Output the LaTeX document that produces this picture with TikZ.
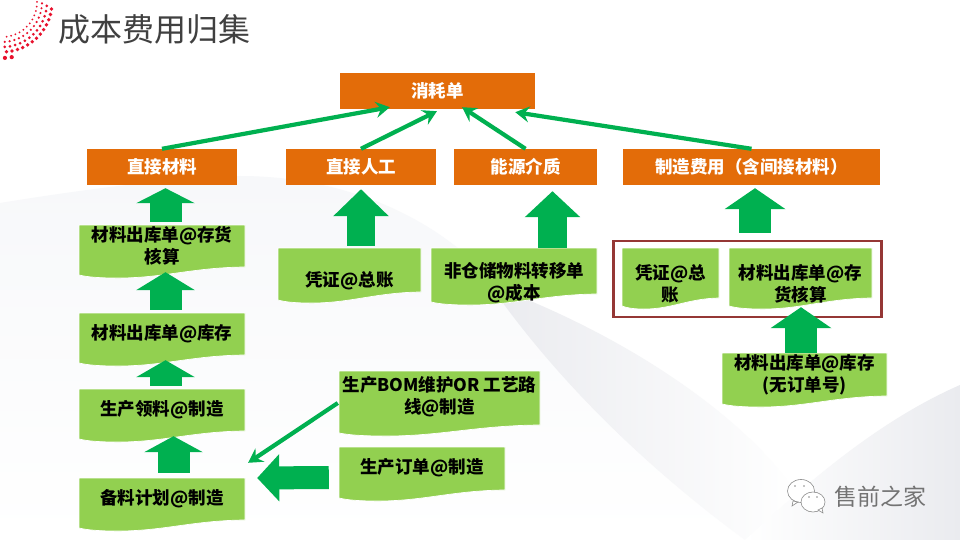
\documentclass[tikz,border=0pt]{standalone}
\usepackage{fontspec}
\setmainfont{Noto Sans CJK SC}
\newfontfamily\cjk{Noto Sans CJK SC}
\usetikzlibrary{arrows.meta,calc}
\definecolor{orgfill}{HTML}{E36C09}
\definecolor{docfill}{HTML}{92D050}
\definecolor{arrgreen}{HTML}{00B050}
\definecolor{redbox}{HTML}{953735}
\definecolor{dotred}{HTML}{E8112D}
\definecolor{titlegrey}{HTML}{404040}
\definecolor{bgA}{HTML}{F7F8FA}
\definecolor{bgB}{HTML}{EAEBEF}
\tikzset{
  orgbox/.style={fill=orgfill,text=white,inner sep=0pt,font=\cjk\bfseries\fontsize{17.5}{22}\selectfont},
  doctext/.style={inner sep=0pt,align=center,text=black,font=\cjk\bfseries\fontsize{17.5}{22}\selectfont},
  docshape/.style={fill=docfill,draw=white,line width=.7pt},
  thinarrow/.style={draw=arrgreen,line width=4.2pt,-{Stealth[width=16pt,length=14pt,inset=5pt]}},
  blockarrow/.style n args={3}{draw=arrgreen,line width=#1pt,-{Triangle[width=#2pt,length=#3pt]}},
}
% name, x1, y1, x2, y2 (lowest point of the wave), text centre y, text
\newcommand{\docn}[7]{%
  \pgfmathsetmacro{\dw}{#4-#2}%
  \pgfmathsetmacro{\dcx}{(#2+#4)/2}%
  \pgfmathsetmacro{\dh}{2*(#6-#3)}%
  \path[docshape] (#2,#3) -- (#4,#3) -- (#4,#5-11)
    .. controls (#2+.68*\dw,#5-10.5) and (#2+.5*\dw,#5+.5) .. (#2+.22*\dw,#5)
    .. controls (#2+.12*\dw,#5) and (#2+.05*\dw,#5-1) .. (#2,#5-3) -- cycle;
  \node[doctext,minimum width=\dw pt,minimum height=\dh pt] (#1) at (\dcx,#6) {#7};
}
\begin{document}
\begin{tikzpicture}[x=1pt,y=-1pt]
\useasboundingbox (0,0) rectangle (960,540);
\fill[white] (0,0) rectangle (960,540);
% background swoosh
\shade[top color=bgA,bottom color=white]
  (0,203) .. controls (80,190) and (170,178) .. (240,176)
  .. controls (340,176) and (440,215) .. (500,290)
  .. controls (560,380) and (650,470) .. (745,540) -- (0,540) -- cycle;
\shade[shading angle=45,left color=bgB,right color=white]
  (490,285) .. controls (560,385) and (650,470) .. (745,540)
  -- (800,500) .. controls (760,430) and (640,340) .. (490,285) -- cycle;
\shade[shading angle=-45,left color=white,right color=bgB]
  (745,540) .. controls (810,480) and (880,420) .. (960,385) -- (960,540) -- cycle;
% logo dots
\foreach \r/\s/\a/\b/\st in {35/1/0/90/7.5, 40/1.2/2/90/7, 45/1.5/5/90/6.8, 50/1.9/8/86/6.4, 56/2.1/80/90/7}{
  \foreach \i in {0,...,14}{
    \pgfmathsetmacro{\t}{\a+\i*\st}
    \ifdim \t pt<\b pt
      \fill[dotred] (2,2) ++(\t:\r) circle[radius=\s pt];
    \fi
  }
}
% title
\node[anchor=west,inner sep=0pt,text=titlegrey,font=\cjk\fontsize{32}{38}\selectfont] (title) at (58,29) {成本费用归集};
% orange boxes
\node[orgbox,minimum width=195pt,minimum height=36pt] (xhd) at (437.5,91) {消耗单};
\node[orgbox,minimum width=150pt,minimum height=36pt] (zjcl) at (162,167) {直接材料};
\node[orgbox,minimum width=150pt,minimum height=36pt] (zjrg) at (361,167) {直接人工};
\node[orgbox,minimum width=143pt,minimum height=36pt] (nyjz) at (525.5,167) {能源介质};
\node[orgbox,minimum width=257pt,minimum height=36pt] (zzfy) at (751.5,167) {制造费用（含间接材料）};
% red frame
\node[draw=redbox,line width=2.6pt,minimum width=268pt,minimum height=76pt,inner sep=0pt] (frame) at (747.5,279) {};
% documents
\docn{cunhuo}{79}{225}{245}{278}{246}{材料出库单@存货\\核算}
\docn{kucun}{79}{313}{245}{366}{334}{材料出库单@库存}
\docn{lingliao}{79}{389}{245}{442}{410}{生产领料@制造}
\docn{beiliao}{79}{478}{245}{531}{499}{备料计划@制造}
\docn{bom}{339}{371}{540}{436}{397}{生产BOM维护OR 工艺路\\线@制造}
\docn{dingdan}{339}{447}{505}{501}{468}{生产订单@制造}
\docn{pingzheng}{278}{248}{421}{303}{281}{凭证@总账}
\docn{feicang}{431}{248}{597}{305}{283}{非仓储物料转移单\\@成本}
\docn{pingzhengb}{622}{248}{719}{309}{284}{凭证@总\\账}
\docn{cunhuob}{729}{248}{872}{309}{284}{材料出库单@存\\货核算}
\docn{kucunb}{722}{353}{887}{407}{375}{材料出库单@库存\\(无订单号)}
% thin arrows
\draw[thinarrow] (zjcl.north) -- ($(xhd.south west)!.256!(xhd.south east)+(0,-2)$);
\draw[thinarrow] (zjrg.north) -- ($(xhd.south west)!.497!(xhd.south east)+(0,2)$);
\draw[thinarrow] (nyjz.north) -- ($(xhd.south west)!.626!(xhd.south east)+(0,-2)$);
\draw[thinarrow] (zzfy.north) -- ($(xhd.south west)!.898!(xhd.south east)+(0,3)$);
\draw[thinarrow] ($(bom.west)+(-1,6)$) -- ($(beiliao.north east)+(3,-15)$);
% block arrows
\draw[blockarrow={32}{58}{15}] ($(cunhuo.north)+(3.5,-3)$) -- ($(zjcl.south)+(3.5,3)$);
\draw[blockarrow={32}{58}{18}] ($(kucun.north)+(3.5,-3)$) -- ($(cunhuo.south)+(3.5,5)$);
\draw[blockarrow={32}{58}{17}] ($(lingliao.north)+(3.5,-3)$) -- ($(kucun.south)+(3.5,5)$);
\draw[blockarrow={32}{58}{16}] ($(beiliao.north)+(11.5,-5)$) -- ($(lingliao.south)+(11.5,5)$);
\draw[blockarrow={28}{54}{27}] ($(pingzheng.north)+(11.5,-2)$) -- ($(zjrg.south)+(0,4)$);
\draw[blockarrow={29}{54}{26}] ($(feicang.north)+(38.5,0)$) -- ($(nyjz.south)+(27,6)$);
\draw[blockarrow={32}{60}{21}] ($(frame.north)+(7.5,-7)$) -- ($(zzfy.south)+(3.5,3)$);
\draw[blockarrow={32}{60}{21}] ($(kucunb.north)+(-3.5,0)$) -- ($(cunhuob.south)+(.5,-13)$);
\draw[blockarrow={23}{46}{22}] ($(dingdan.west)+(-10,9.5)$) -- ($(beiliao.east)+(12,-21)$);
% watermark: WeChat-style icon
\begin{scope}[draw=black!45,fill=white,line width=.6pt]
  \path[draw,fill] (801,491) ellipse[x radius=13.5pt,y radius=11.5pt];
  \path[draw,fill] (793,501) -- (792,506) -- (798,502) -- cycle;
  \path[draw,fill] (813,502) ellipse[x radius=12pt,y radius=10pt];
  \path[draw,fill] (818,510) -- (823,513) -- (822,508) -- cycle;
\end{scope}
\fill[black!45] (795,486) circle[radius=.8pt] (804,486) circle[radius=.8pt] (809,497) circle[radius=.8pt] (817,497) circle[radius=.8pt];
\node[anchor=west,inner sep=0pt,text=black!55,font=\cjk\fontsize{23}{28}\selectfont] (mark) at (834,497) {售前之家};
\end{tikzpicture}
\end{document}
